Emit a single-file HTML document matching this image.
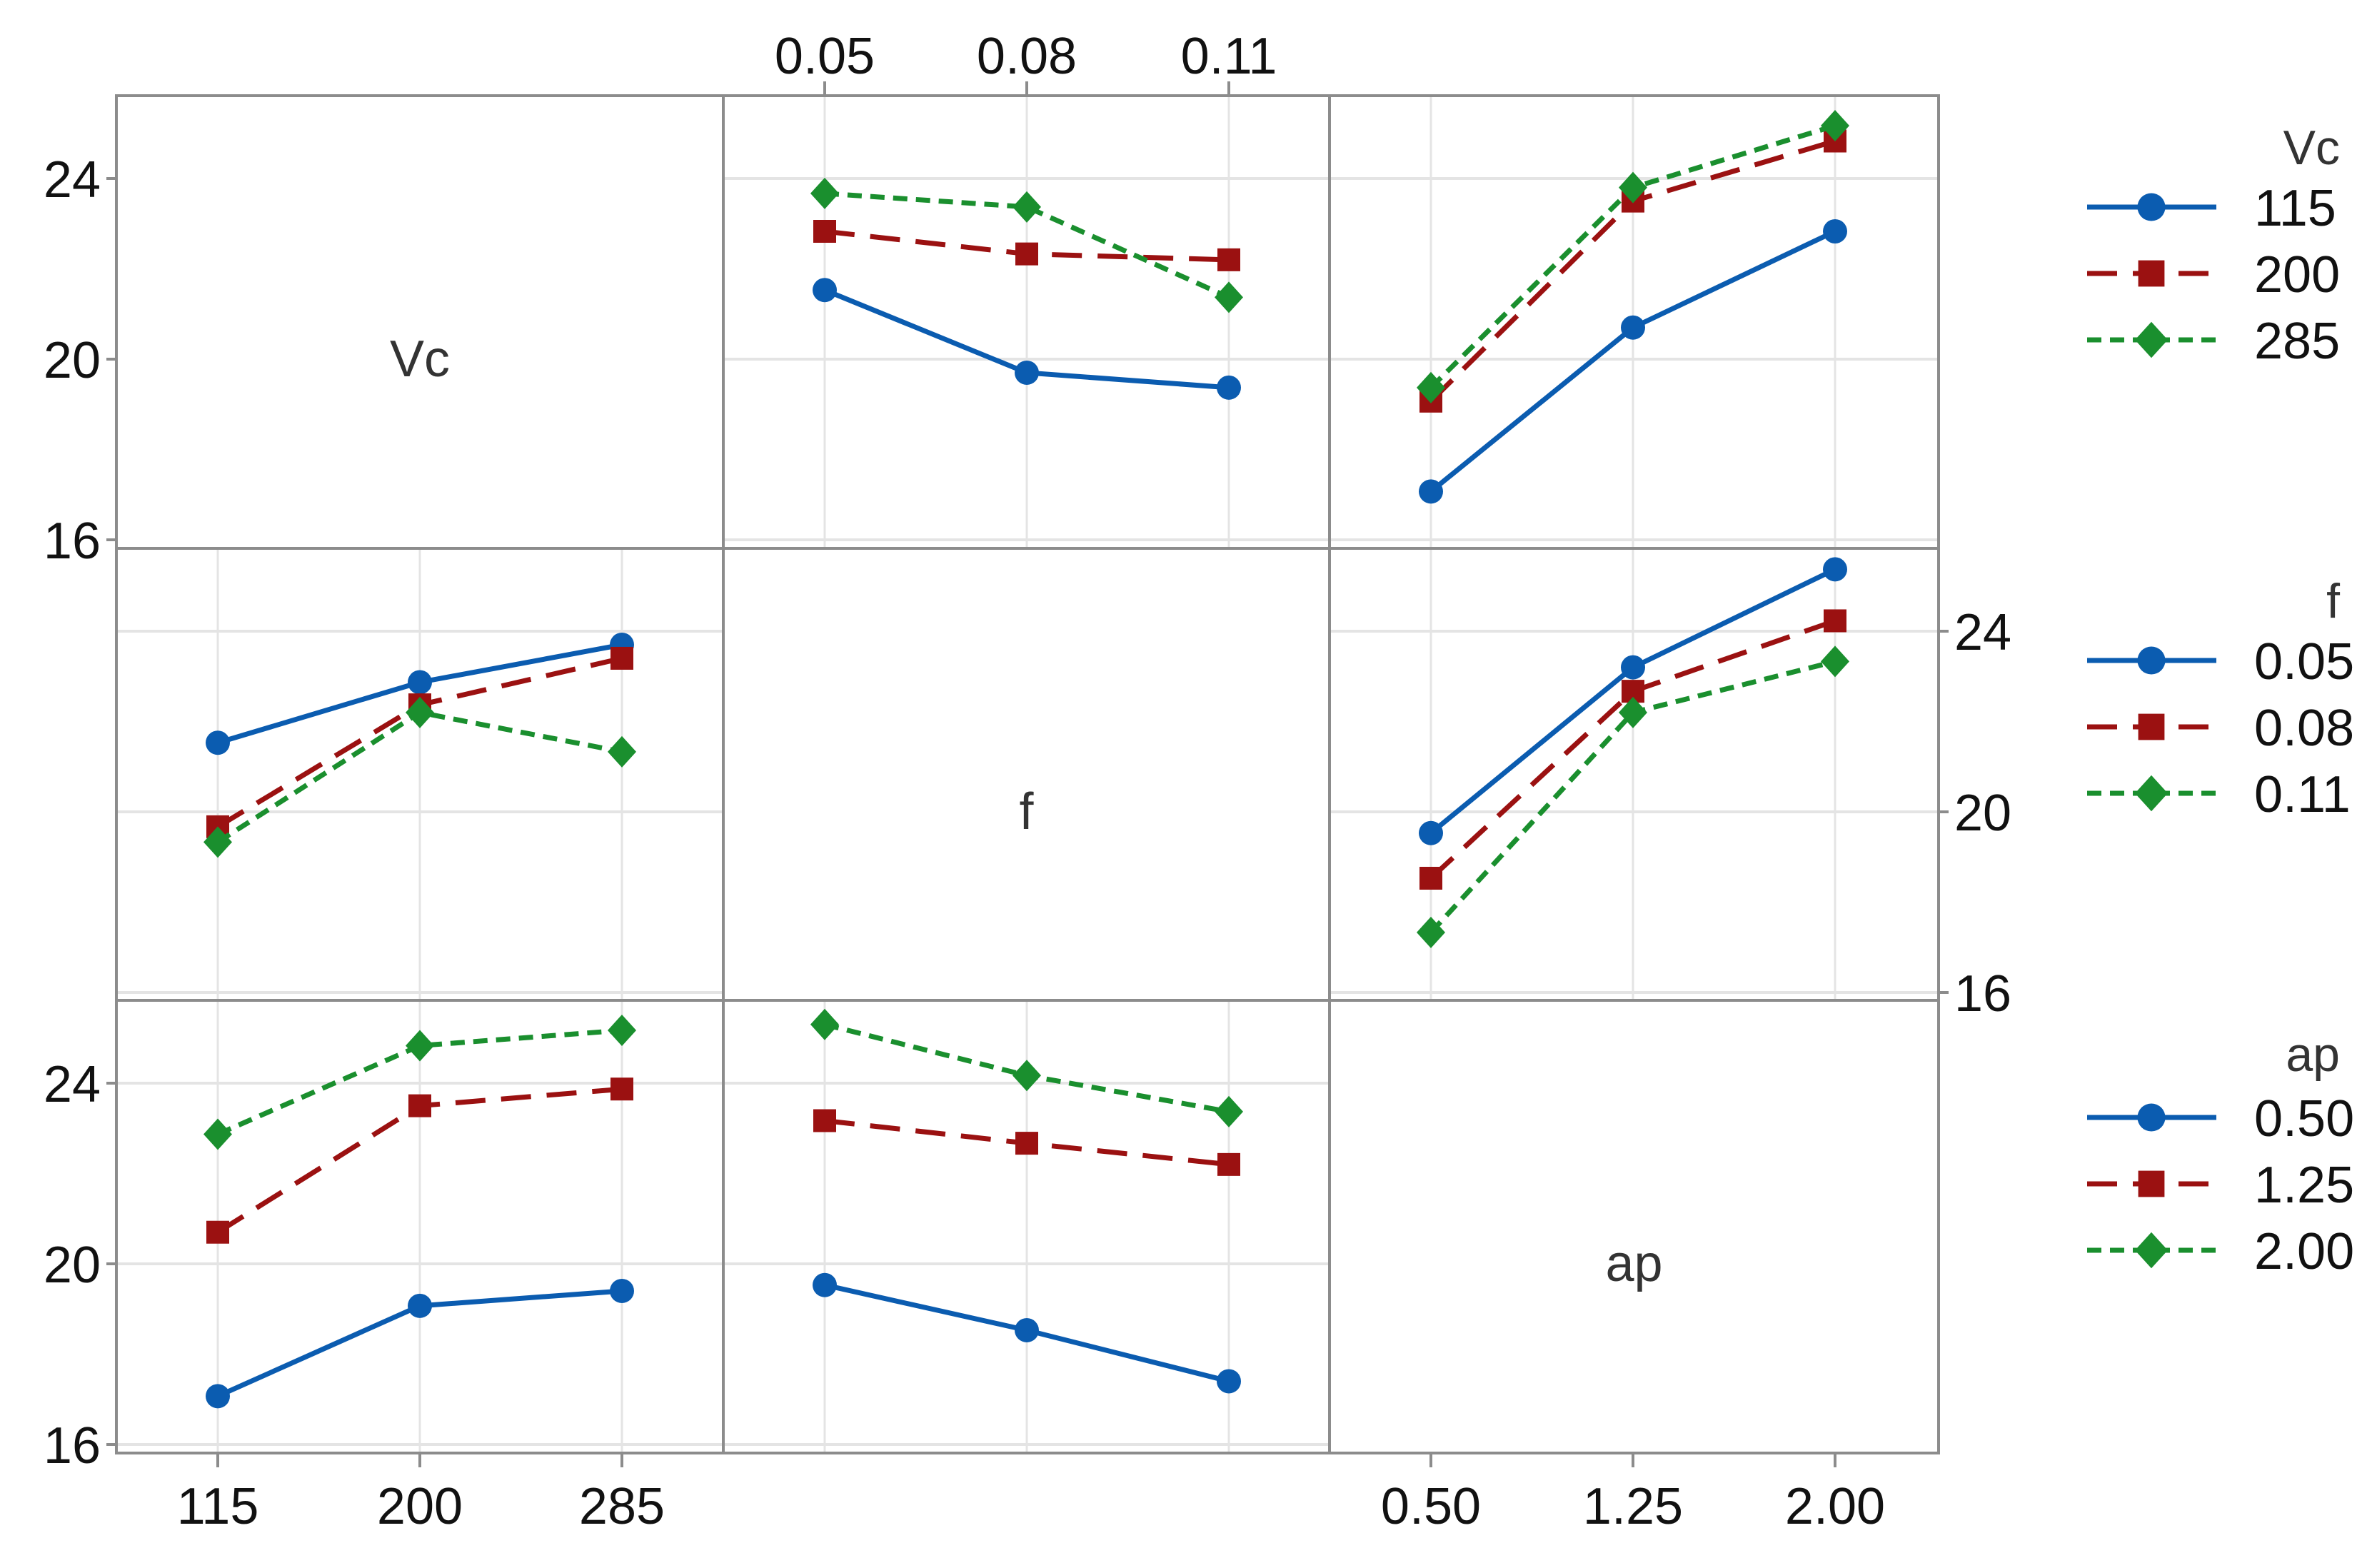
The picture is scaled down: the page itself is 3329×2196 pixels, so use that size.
<!DOCTYPE html>
<html><head><meta charset="utf-8"><style>
html,body{margin:0;padding:0;background:#fff;}
svg{display:block;font-family:"Liberation Sans",Arial,sans-serif;}
</style></head><body>
<svg id="chart" width="3329" height="2196" viewBox="0 0 3329 2196" xmlns="http://www.w3.org/2000/svg"></svg>
<script>
// ---- data ----
const vcLevels = ["115","200","285"];
const fLevels = ["0.05","0.08","0.11"];
const apLevels = ["0.50","1.25","2.00"];
const yTicks = [16,20,24];
// row1: Vc series
const vcByF_115 = [21.53,19.70,19.37];
const vcByF_200 = [22.83,22.33,22.20];
const vcByF_285 = [23.67,23.37,21.37];
const vcByAp_115 = [17.07,20.70,22.83];
const vcByAp_200 = [19.07,23.50,24.83];
const vcByAp_285 = [19.37,23.80,25.17];
// row2: f series
const fByVc_005 = [21.53,22.87,23.70];
const fByVc_008 = [19.67,22.37,23.40];
const fByVc_011 = [19.33,22.20,21.33];
const fByAp_005 = [19.53,23.20,25.37];
const fByAp_008 = [18.53,22.67,24.23];
const fByAp_011 = [17.33,22.20,23.33];
// row3: ap series
const apByVc_050 = [17.07,19.07,19.40];
const apByVc_125 = [20.70,23.50,23.87];
const apByVc_200 = [22.87,24.83,25.17];
const apByF_050 = [19.53,18.53,17.40];
const apByF_125 = [23.17,22.67,22.20];
const apByF_200 = [25.30,24.17,23.37];

// ---- layout ----
const NS="http://www.w3.org/2000/svg";
const svg=document.getElementById('chart');
const colX=[163,1013,1862,2715];
const rowY=[134,768,1401,2035];
const COLORS=["#0b5cb0","#9b1111","#1a8f2e"];
const DASH=["", "42 22", "20 12"];
const SHAPES=["circle","square","diamond"];
function el(tag,attrs,parent){const e=document.createElementNS(NS,tag);for(const k in attrs)e.setAttribute(k,attrs[k]);(parent||svg).appendChild(e);return e;}
function xPos(c,i){return colX[c]+142+i*283;}
function yPos(r,v){return rowY[r]+116+(24-v)*63.25;}
function marker(shape,x,y,color,g,sc){
  sc=sc||1;
  let m;
  if(shape==="circle") m=el('circle',{cx:x,cy:y,r:17*sc,fill:color},g);
  else if(shape==="square") m=el('rect',{x:x-16*sc,y:y-16*sc,width:32*sc,height:32*sc,fill:color},g);
  else m=el('polygon',{points:`${x},${y-22*sc} ${x+20*sc},${y} ${x},${y+22*sc} ${x-20*sc},${y}`,fill:color},g);
  return m;
}
// grid
for(let r=0;r<3;r++)for(let c=0;c<3;c++){
  if(r===c) continue;
  const g=el('g',{});
  
  
  for(const t of yTicks) el('line',{x1:colX[c],x2:colX[c+1],y1:yPos(r,t),y2:yPos(r,t),stroke:"#e4e4e4","stroke-width":4},g);
  for(let i=0;i<3;i++) el('line',{x1:xPos(c,i),x2:xPos(c,i),y1:rowY[r],y2:rowY[r+1],stroke:"#e4e4e4","stroke-width":3},g);
}
// panel borders
for(let r=0;r<3;r++)for(let c=0;c<3;c++){
  const b=el('rect',{x:colX[c],y:rowY[r],width:colX[c+1]-colX[c],height:rowY[r+1]-rowY[r],fill:"none",stroke:"#8c8c8c","stroke-width":4});
  
  
}
// diagonal labels
const diagNames=["Vc","f","ap"];
for(let d=0;d<3;d++){
  const t=el('text',{x:(colX[d]+colX[d+1])/2,y:yPos(d,20)+24,"text-anchor":"middle","font-size":72,fill:"#333"});
  t.textContent=diagNames[d];
  
  
}
// series
const panels=[
 [0,1,[vcByF_115,vcByF_200,vcByF_285]],
 [0,2,[vcByAp_115,vcByAp_200,vcByAp_285]],
 [1,0,[fByVc_005,fByVc_008,fByVc_011]],
 [1,2,[fByAp_005,fByAp_008,fByAp_011]],
 [2,0,[apByVc_050,apByVc_125,apByVc_200]],
 [2,1,[apByF_050,apByF_125,apByF_200]],
];
for(const [r,c,series] of panels){
  series.forEach((vals,s)=>{
    const g=el('g',{});
    
    
    const pts=vals.map((v,i)=>xPos(c,i)+","+yPos(r,v)).join(" ");
    const a={points:pts,fill:"none",stroke:COLORS[s],"stroke-width":7};
    if(DASH[s]) a["stroke-dasharray"]=DASH[s];
    el('polyline',a,g);
    vals.forEach((v,i)=>{const m=marker(SHAPES[s],xPos(c,i),yPos(r,v),COLORS[s],g);
      
      });
  });
}
// axes ticks/labels
function yAxis(r,side){
  const g=el('g',{});
  
  
  for(const t of yTicks){
    const y=yPos(r,t);
    if(side==="left"){
      el('line',{x1:colX[0]-14,x2:colX[0],y1:y,y2:y,stroke:"#8c8c8c","stroke-width":4},g);
      const tx=el('text',{x:colX[0]-22,y:y+26,"text-anchor":"end","font-size":72,fill:"#111"},g);tx.textContent=t;
    }else{
      el('line',{x1:colX[3],x2:colX[3]+14,y1:y,y2:y,stroke:"#8c8c8c","stroke-width":4},g);
      const tx=el('text',{x:colX[3]+22,y:y+26,"text-anchor":"start","font-size":72,fill:"#111"},g);tx.textContent=t;
    }
  }
}
yAxis(0,"left");yAxis(2,"left");yAxis(1,"right");
function xAxis(c,labels,side){
  const g=el('g',{});
  
  
  labels.forEach((l,i)=>{
    const x=xPos(c,i);
    if(side==="top"){
      el('line',{x1:x,x2:x,y1:rowY[0]-20,y2:rowY[0],stroke:"#8c8c8c","stroke-width":4},g);
      const tx=el('text',{x:x,y:103,"text-anchor":"middle","font-size":72,fill:"#111"},g);tx.textContent=l;
    }else{
      el('line',{x1:x,x2:x,y1:rowY[3],y2:rowY[3]+20,stroke:"#8c8c8c","stroke-width":4},g);
      const tx=el('text',{x:x,y:2134,"text-anchor":"middle","font-size":72,fill:"#111"},g);tx.textContent=l;
    }
  });
}
xAxis(1,fLevels,"top");xAxis(0,vcLevels,"bottom");xAxis(2,apLevels,"bottom");
// legends
const legends=[["Vc",vcLevels,206,290],["f",fLevels,841,925],["ap",apLevels,1476,1565]];
legends.forEach(([title,labels,ty,y0],li)=>{
  const g=el('g',{});
  
  
  const tt=el('text',{x:3277,y:ty+24,"text-anchor":"end","font-size":68,fill:"#333"},g);tt.textContent=title;
  labels.forEach((l,s)=>{
    const y=y0+s*93;
    const e=el('g',{},g);
    
    
    const a={x1:2923,x2:3104,y1:y,y2:y,stroke:COLORS[s],"stroke-width":7};
    if(DASH[s]) a["stroke-dasharray"]=DASH[s];
    el('line',a,e);
    marker(SHAPES[s],3013,y,COLORS[s],e,1.15);
    const tx=el('text',{x:3157,y:y+26,"font-size":72,fill:"#111"},e);tx.textContent=l;
  });
});
</script>
</body></html>
